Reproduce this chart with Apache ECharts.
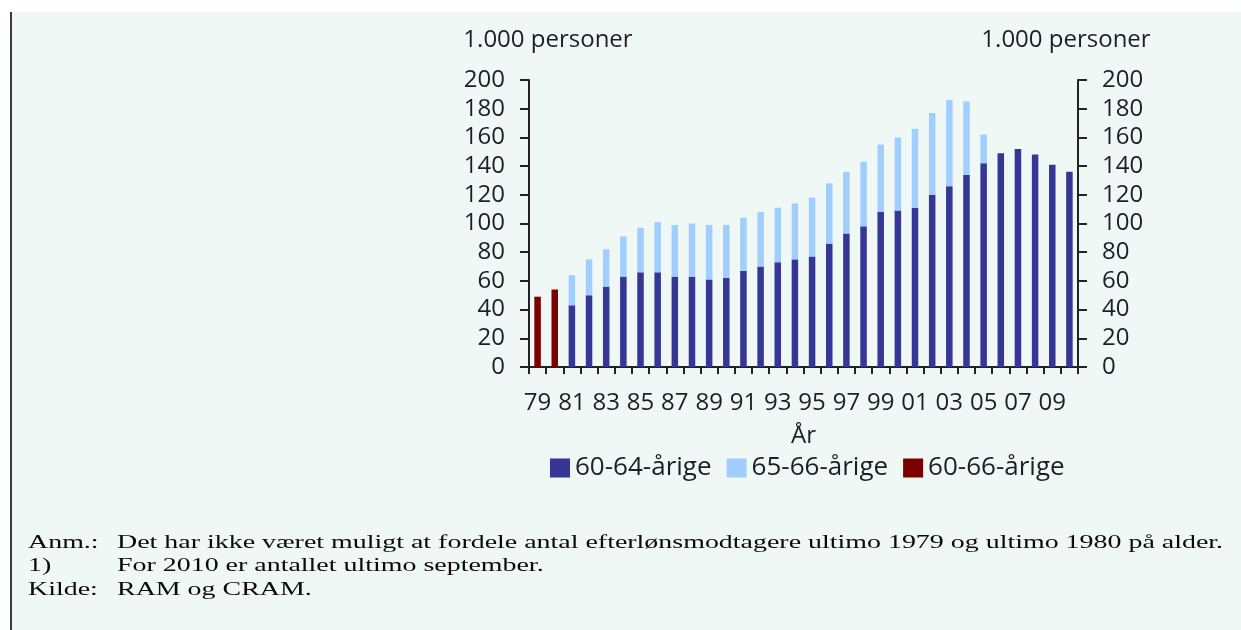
<!DOCTYPE html>
<html>
<head>
<meta charset="utf-8">
<script src="https://cdn.jsdelivr.net/npm/echarts@6/dist/echarts.min.js"></script>
<style>
  html, body { margin: 0; padding: 0; background: #fff; }
  #panel { position: absolute; left: 10px; top: 12px; width: 1231px; height: 618px;
           background: #f0f8f6; border-left: 2px solid #3a3a3a; box-sizing: border-box; }
  #main { position: absolute; left: 0; top: 0; width: 1241px; height: 630px; }
</style>
</head>
<body>
<div id="panel"></div>
<div id="main"></div>
<script>
// år 1979-2010
var years = ['79','80','81','82','83','84','85','86','87','88','89','90','91','92','93','94','95','96','97','98','99','00','01','02','03','04','05','06','07','08','09','10'];
// 60-64-årige (1.000 personer)
var age6064 = [null,null,43,50,56,63,66,66,63,63,61,62,67,70,73,75,77,86,93,98,108,109,111,120,126,134,142,149,152,148,141,136];
// 65-66-årige
var age6566 = [null,null,21,25,26,28,31,35,36,37,38,37,37,38,38,39,41,42,43,45,47,51,55,57,60,51,20,null,null,null,null,null];
// 60-66-årige (1979 og 1980, ikke fordelt på alder)
var age6066 = [49,54,null,null,null,null,null,null,null,null,null,null,null,null,null,null,null,null,null,null,null,null,null,null,null,null,null,null,null,null,null,null];

var unitName = '1.000 personer';
var notes = [
  ['Anm.:', 'Det har ikke været muligt at fordele antal efterlønsmodtagere ultimo 1979 og ultimo 1980 på alder.'],
  ['1)', 'For 2010 er antallet ultimo september.'],
  ['Kilde:', 'RAM og CRAM.']
];

var font = 'Open Sans';
var txtColor = '#1e1e2a';
var axisColor = '#222';

var myChart = echarts.init(document.getElementById('main'));

var yAxisBase = {
  type: 'value',
  min: 0,
  max: 200,
  interval: 20,
  name: unitName,
  nameLocation: 'end',
  nameGap: 28,
  splitLine: { show: false },
  axisLine: { show: true, lineStyle: { color: axisColor, width: 2 } },
  axisTick: { show: true, length: 9, lineStyle: { color: axisColor, width: 2 } },
  axisLabel: { margin: 24, fontFamily: font, fontSize: 24, color: txtColor }
};

// fodnoter
var noteGraphics = [];
notes.forEach(function (n, i) {
  var y = 543 + i * 23.5;
  noteGraphics.push({
    type: 'text', x: 28, y: y, scaleX: 1.47,
    style: { text: n[0], fontFamily: 'Liberation Serif', fontSize: 19, fill: '#0a0a0a', verticalAlign: 'middle' }
  });
  noteGraphics.push({
    type: 'text', x: 117, y: y, scaleX: 1.47,
    style: { text: n[1], fontFamily: 'Liberation Serif', fontSize: 19, fill: '#0a0a0a', verticalAlign: 'middle' }
  });
});

var option = {
  animation: false,
  backgroundColor: 'transparent',
  grid: { left: 529, right: 163, top: 80, bottom: 263 },
  legend: {
    data: ['60-64-årige', '65-66-årige', '60-66-årige'],
    left: 545,
    top: 450,
    icon: 'rect',
    itemWidth: 20,
    itemHeight: 19,
    itemGap: 15,
    textStyle: { fontFamily: font, fontSize: 26, color: txtColor }
  },
  xAxis: {
    type: 'category',
    data: years,
    name: 'År',
    nameLocation: 'middle',
    nameGap: 57,
    nameTextStyle: { fontFamily: font, fontSize: 24, color: txtColor },
    axisLine: { lineStyle: { color: axisColor, width: 2 } },
    axisTick: { show: true, length: 7, interval: 0, lineStyle: { color: axisColor, width: 2 } },
    axisLabel: { interval: 1, margin: 24, fontFamily: font, fontSize: 24, color: txtColor }
  },
  yAxis: [
    Object.assign({}, yAxisBase, {
      position: 'left',
      nameTextStyle: { fontFamily: font, fontSize: 24, color: txtColor, padding: [0, 0, 0, 38] }
    }),
    Object.assign({}, yAxisBase, {
      position: 'right',
      nameTextStyle: { fontFamily: font, fontSize: 24, color: txtColor, padding: [0, 24, 0, 0] }
    })
  ],
  series: [
    {
      name: '60-64-årige',
      type: 'bar',
      stack: 'total',
      barWidth: '38%',
      itemStyle: { color: '#363696' },
      data: age6064
    },
    {
      name: '65-66-årige',
      type: 'bar',
      stack: 'total',
      itemStyle: { color: '#9fceff' },
      data: age6566
    },
    {
      name: '60-66-årige',
      type: 'bar',
      stack: 'total',
      itemStyle: { color: '#7b0000' },
      data: age6066
    }
  ],
  graphic: noteGraphics
};

myChart.setOption(option);
</script>
</body>
</html>
